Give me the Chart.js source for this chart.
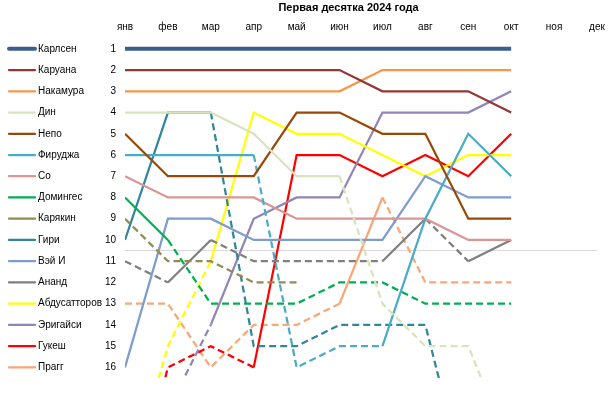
<!DOCTYPE html>
<html lang="ru">
<head>
    <meta charset="UTF-8">
    <title>Первая десятка 2024 года</title>
    <style>
        body {
            margin: 0;
            background-color: #ffffff;
        }

        .chart-box {
            width: 614px;
            height: 393px;
        }
    </style>
    <script src="https://cdn.jsdelivr.net/npm/chart.js"></script>
</head>
<body>

    <div class="chart-box">
        <canvas id="rankChart" width="614" height="393"></canvas>
    </div>

    <script>
        // Months on the top axis
        const months = ['янв', 'фев', 'мар', 'апр', 'май', 'июн', 'июл', 'авг', 'сен', 'окт', 'ноя', 'дек'];

        // Rank labels on the left axis
        const rankTicks = [1, 2, 3, 4, 5, 6, 7, 8, 9, 10, 11, 12, 13, 14, 15, 16];

        // Players, in legend order
        const players = ['Карлсен', 'Каруана', 'Накамура', 'Дин', 'Непо', 'Фируджа', 'Со', 'Домингес',
            'Карякин', 'Гири', 'Вэй И', 'Ананд', 'Абдусатторов', 'Эригайси', 'Гукеш', 'Прагг'];

        // Monthly ranks, янв..окт (values past 16 run off the bottom of the chart)
        const carlsen     = [1, 1, 1, 1, 1, 1, 1, 1, 1, 1];
        const caruana     = [2, 2, 2, 2, 2, 2, 3, 3, 3, 4];
        const nakamura    = [3, 3, 3, 3, 3, 3, 2, 2, 2, 2];
        const ding        = [4, 4, 4, 5, 7, 7, 13, 15, 15, 20];
        const nepo        = [5, 7, 7, 7, 4, 4, 5, 5, 9, 9];
        const firouzja    = [6, 6, 6, 6, 16, 15, 15, 9, 5, 7];
        const so          = [7, 8, 8, 8, 9, 9, 9, 9, 10, 10];
        const dominguez   = [8, 10, 13, 13, 13, 12, 12, 13, 13, 13];
        const karjakin    = [9, 11, 11, 12, 12];
        const giri        = [10, 4, 4, 15, 15, 14, 14, 14, 22];
        const weiYi       = [16, 9, 9, 10, 10, 10, 10, 7, 8, 8];
        const anand       = [11, 12, 10, 11, 11, 11, 11, 9, 11, 10];
        const abdusattorov = [22, 15, 11, 4, 5, 5, 6, 7, 6, 6];
        const erigaisi    = [20, 18, 14, 9, 8, 8, 4, 4, 4, 3];
        const gukesh      = [24, 16, 15, 16, 6, 6, 7, 6, 7, 5];
        const pragg       = [13, 13, 16, 14, 14, 13, 8, 12, 12, 12];

        // Top-10 cut-off line
        const cutoff = [10.5, 10.5, 10.5, 10.5, 10.5, 10.5, 10.5, 10.5, 10.5, 10.5, 10.5, 10.5];

        const series = [carlsen, caruana, nakamura, ding, nepo, firouzja, so, dominguez,
            karjakin, giri, weiYi, anand, abdusattorov, erigaisi, gukesh, pragg];

        const colors = ['#3A5F8F', '#953735', '#F79646', '#D7E4BD', '#984807', '#4BACC6', '#D99694', '#00B050',
            '#948A54', '#31859C', '#7E9CCD', '#7F7F7F', '#FFFF00', '#9384B7', '#FF0000', '#F8A777'];

        const FONT = "'Liberation Sans', Arial, sans-serif";

        // Segment going to a rank outside the top 10 is dashed
        const dashOutside = ctx => ctx.p1.parsed.y > 10 ? [7, 4] : undefined;

        const datasets = series.map((values, i) => ({
            label: players[i],
            data: values,
            borderColor: colors[i],
            borderWidth: i === 0 ? 4 : 2.25,
            pointRadius: 0,
            tension: 0,
            clip: 0,
            segment: { borderDash: dashOutside },
            order: 1
        }));

        datasets.push({
            label: 'cutoff',
            data: cutoff,
            borderColor: '#D9D9D9',
            borderWidth: 1,
            pointRadius: 0,
            clip: 0,
            order: 2
        });

        // Legend drawn on the left, one row per rank line
        const sideLegend = {
            id: 'sideLegend',
            afterDraw(chart) {
                const ctx = chart.ctx;
                const y = chart.scales.y;
                ctx.save();
                ctx.font = '10px ' + FONT;
                ctx.textBaseline = 'middle';
                ctx.textAlign = 'left';
                players.forEach((name, i) => {
                    const py = y.getPixelForValue(i + 1);
                    ctx.strokeStyle = colors[i];
                    ctx.lineWidth = i === 0 ? 4 : 2.25;
                    ctx.lineCap = 'round';
                    ctx.beginPath();
                    ctx.moveTo(9, py);
                    ctx.lineTo(35, py);
                    ctx.stroke();
                    ctx.fillStyle = '#000000';
                    ctx.fillText(name, 38, py);
                });
                ctx.restore();
            }
        };

        new Chart(document.getElementById('rankChart'), {
            type: 'line',
            data: { labels: months, datasets: datasets },
            options: {
                responsive: false,
                animation: false,
                layout: { padding: { left: 100, right: 17, top: 0, bottom: 7 } },
                plugins: {
                    legend: { display: false },
                    tooltip: { enabled: false },
                    title: {
                        display: true,
                        text: 'Первая десятка 2024 года',
                        color: '#000000',
                        font: { family: FONT, size: 11, weight: 'bold' },
                        padding: { top: 1, bottom: 2 }
                    }
                },
                scales: {
                    x: {
                        position: 'top',
                        offset: false,
                        grid: { display: false, drawTicks: false },
                        border: { display: false },
                        ticks: {
                            color: '#000000',
                            font: { family: FONT, size: 10 },
                            padding: 5,
                            maxRotation: 0,
                            autoSkip: false
                        }
                    },
                    y: {
                        reverse: true,
                        min: 0.5,
                        max: 16.5,
                        grid: { display: false, drawTicks: false },
                        border: { display: false },
                        afterBuildTicks(scale) {
                            scale.ticks = rankTicks.map(v => ({ value: v }));
                        },
                        ticks: {
                            color: '#000000',
                            font: { family: FONT, size: 10 },
                            padding: 9,
                            callback: v => String(v)
                        },
                        afterFit(scale) { scale.width = 25; }
                    }
                }
            },
            plugins: [sideLegend]
        });
    </script>

</body>
</html>
